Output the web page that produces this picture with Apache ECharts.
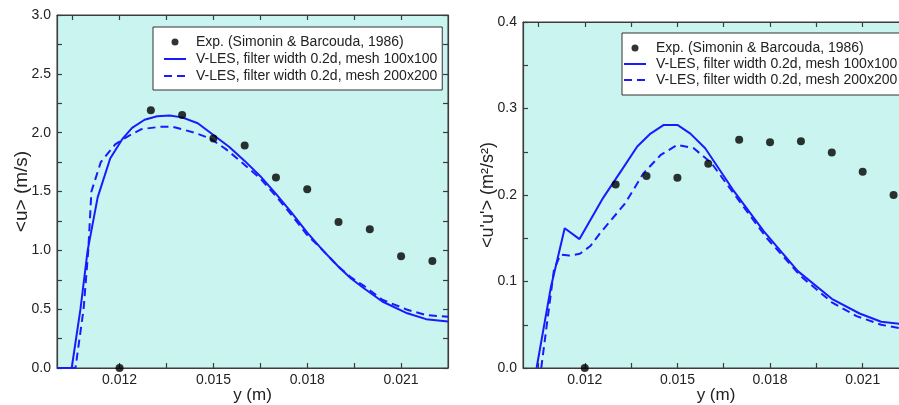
<!DOCTYPE html>
<html>
<head>
<meta charset="utf-8">
<script src="https://cdn.jsdelivr.net/npm/echarts@6/dist/echarts.min.js"></script>
<style>
  html, body { margin: 0; padding: 0; background: #fff; }
  #chart { width: 899px; height: 405px; }
</style>
</head>
<body>
<div id="chart"></div>
<script>
// Radial position y (m) of the experimental stations
const expY = [0.012, 0.013, 0.014, 0.015, 0.016, 0.017, 0.018, 0.019, 0.020, 0.021, 0.022];
// Mean streamwise velocity <u> (m/s), experiment
const expMeanU = [0, 2.19, 2.15, 1.95, 1.89, 1.62, 1.52, 1.24, 1.18, 0.95, 0.91];
// Streamwise velocity variance <u'u'> (m2/s2), experiment
const expVarU = [0, 0.212, 0.222, 0.220, 0.236, 0.264, 0.261, 0.262, 0.249, 0.227, 0.200];

// V-LES, mesh 100x100: mean velocity
const lesMeanY100 = [0.0100, 0.01047, 0.01075, 0.01098, 0.0113, 0.0117, 0.0121, 0.0124, 0.0128, 0.0132, 0.0136, 0.0140, 0.0145, 0.0150, 0.0155, 0.0160, 0.0165, 0.0170, 0.0175, 0.0180, 0.0185, 0.0190, 0.0194, 0.0198, 0.0204, 0.0212, 0.0218, 0.0225];
const lesMeanU100 = [0, 0, 0.5, 1.0, 1.45, 1.78, 1.95, 2.04, 2.11, 2.14, 2.145, 2.13, 2.08, 1.98, 1.88, 1.76, 1.63, 1.48, 1.32, 1.15, 1.0, 0.86, 0.76, 0.68, 0.565, 0.465, 0.415, 0.395];
// V-LES, mesh 200x200: mean velocity
const lesMeanY200 = [0.0100, 0.01059, 0.01085, 0.0110, 0.0111, 0.0114, 0.01186, 0.01224, 0.0127, 0.0133, 0.0137, 0.0144, 0.0149, 0.0154, 0.0159, 0.0165, 0.0170, 0.0175, 0.0180, 0.0185, 0.0190, 0.0194, 0.0198, 0.0204, 0.0212, 0.0218, 0.0225];
const lesMeanU200 = [0, 0, 0.5, 1.0, 1.5, 1.75, 1.9, 1.965, 2.03, 2.05, 2.05, 2.0, 1.95, 1.86, 1.75, 1.61, 1.46, 1.30, 1.13, 1.0, 0.86, 0.77, 0.70, 0.58, 0.495, 0.45, 0.435];

// V-LES, mesh 100x100: variance
const lesVarY100 = [0.01044, 0.0109, 0.01135, 0.01183, 0.0126, 0.0132, 0.0137, 0.01413, 0.01456, 0.0150, 0.01542, 0.0159, 0.0168, 0.0178, 0.0189, 0.0200, 0.0209, 0.0216, 0.0222, 0.0225];
const lesVarU100 = [0, 0.093, 0.1615, 0.149, 0.197, 0.229, 0.256, 0.271, 0.281, 0.281, 0.271, 0.254, 0.206, 0.158, 0.112, 0.080, 0.063, 0.0535, 0.051, 0.050];
// V-LES, mesh 200x200: variance
const lesVarY200 = [0.01059, 0.0110, 0.01121, 0.0115, 0.01184, 0.01218, 0.0125, 0.0133, 0.0139, 0.01445, 0.0150, 0.01553, 0.0161, 0.0169, 0.0179, 0.0190, 0.0200, 0.0208, 0.0216, 0.0222, 0.0225];
const lesVarU200 = [0, 0.113, 0.131, 0.13, 0.132, 0.141, 0.156, 0.19, 0.225, 0.246, 0.258, 0.254, 0.237, 0.198, 0.150, 0.106, 0.076, 0.060, 0.050, 0.046, 0.045];

// Tick positions and labels
const xLabelValues = [0.012, 0.015, 0.018, 0.021];
const xTickValues = [0.0105, 0.012, 0.0135, 0.015, 0.0165, 0.018, 0.0195, 0.021];
const meanLabelValues = [0, 0.5, 1.0, 1.5, 2.0, 2.5, 3.0];
const meanTickValues = [0, 0.25, 0.5, 0.75, 1.0, 1.25, 1.5, 1.75, 2.0, 2.25, 2.5, 2.75, 3.0];
const varLabelValues = [0, 0.1, 0.2, 0.3, 0.4];
const varTickValues = [0, 0.05, 0.1, 0.15, 0.2, 0.25, 0.3, 0.35, 0.4];

const seriesNames = [
  'Exp. (Simonin & Barcouda, 1986)',
  'V-LES, filter width 0.2d, mesh 100x100',
  'V-LES, filter width 0.2d, mesh 200x200'
];

const zip = (xs, ys) => xs.map((x, i) => [x, ys[i]]);

const FONT = '"Liberation Sans", Arial, Helvetica, sans-serif';
const FRAME = '#3c3c3c';
const TEXT = '#222';
const BLUE = '#1a1aff';
const PLOT_BG = '#c9f4ef';

function xAxisPair(gridIndex, withName) {
  const common = {
    type: 'value', gridIndex: gridIndex, min: 0.010, max: 0.0225,
    axisLine: { show: true, onZero: false, lineStyle: { color: FRAME, width: 1.2 } },
    axisTick: { show: true, inside: true, length: 5, customValues: xTickValues, lineStyle: { color: FRAME, width: 1.2 } },
    splitLine: { show: false }
  };
  return [
    Object.assign({}, common, {
      position: 'bottom',
      name: withName, nameLocation: 'middle', nameGap: 19, nameMoveOverlap: false,
      nameTextStyle: { fontFamily: FONT, fontSize: 17, color: TEXT },
      axisLabel: { show: true, customValues: xLabelValues, margin: 5, fontFamily: FONT, fontSize: 14, color: TEXT,
        formatter: v => v.toFixed(3) }
    }),
    Object.assign({}, common, { position: 'top', axisLabel: { show: false } })
  ];
}

function yAxisPair(gridIndex, max, labels, ticks, name, nameGap, nameSize) {
  const common = {
    type: 'value', gridIndex: gridIndex, min: 0, max: max,
    axisLine: { show: true, onZero: false, lineStyle: { color: FRAME, width: 1.2 } },
    axisTick: { show: true, inside: true, length: 5, customValues: ticks, lineStyle: { color: FRAME, width: 1.2 } },
    splitLine: { show: false }
  };
  return [
    Object.assign({}, common, {
      position: 'left',
      name: name, nameLocation: 'middle', nameGap: nameGap, nameMoveOverlap: false,
      nameTextStyle: { fontFamily: FONT, fontSize: nameSize, color: TEXT },
      axisLabel: { show: true, customValues: labels, margin: 6, fontFamily: FONT, fontSize: 14, color: TEXT,
        formatter: v => v.toFixed(1) }
    }),
    Object.assign({}, common, { position: 'right', axisLabel: { show: false } })
  ];
}

function expSeries(xi, yi, values) {
  return {
    name: seriesNames[0], type: 'scatter', xAxisIndex: xi, yAxisIndex: yi,
    data: zip(expY, values), symbol: 'circle', symbolSize: 8, clip: false,
    itemStyle: { color: '#000' }, z: 5
  };
}

function lesSeries(nameIdx, xi, yi, xs, ys, dashed) {
  return {
    name: seriesNames[nameIdx], type: 'line', xAxisIndex: xi, yAxisIndex: yi,
    data: zip(xs, ys), symbol: 'none', showSymbol: false, smooth: false,
    lineStyle: { color: BLUE, width: 2, type: dashed ? [8, 5] : 'solid' },
    itemStyle: { color: BLUE }
  };
}

function legendAt(left, top, padding, gap) {
  return {
    orient: 'vertical', left: left, top: top,
    data: [
      { name: seriesNames[0] },
      { name: seriesNames[1], itemStyle: { opacity: 0 } },
      { name: seriesNames[2], itemStyle: { opacity: 0 } }
    ],
    backgroundColor: '#fff', borderColor: '#333', borderWidth: 1, borderRadius: 0,
    padding: padding, itemWidth: 22, itemHeight: 7, itemGap: gap,
    selectedMode: false,
    textStyle: { fontFamily: FONT, fontSize: 14, color: TEXT, padding: [0, 0, 0, 5] }
  };
}

const gridCommon = { show: true, backgroundColor: PLOT_BG, borderColor: FRAME, borderWidth: 1, containLabel: false, outerBoundsMode: 'none' };

const chart = echarts.init(document.getElementById('chart'), null, { renderer: 'canvas' });
chart.setOption({
  animation: false,
  backgroundColor: '#fff',
  grid: [
    Object.assign({ left: 57, top: 15, width: 391, height: 353 }, gridCommon),
    Object.assign({ left: 523, top: 22, width: 386, height: 346 }, gridCommon)
  ],
  xAxis: [].concat(xAxisPair(0, 'y (m)'), xAxisPair(1, 'y (m)')),
  yAxis: [].concat(
    yAxisPair(0, 3, meanLabelValues, meanTickValues, '<u> (m/s)', 26, 19),
    yAxisPair(1, 0.4, varLabelValues, varTickValues, '<u\'u\'> (m\u00b2/s\u00b2)', 26, 18)
  ),
  legend: [
    legendAt(153, 27, [8, 5, 7, 10], 3),
    legendAt(622, 33, [8, 5, 8, 1], 2)
  ],
  series: [
    expSeries(0, 0, expMeanU),
    lesSeries(1, 0, 0, lesMeanY100, lesMeanU100, false),
    lesSeries(2, 0, 0, lesMeanY200, lesMeanU200, true),
    expSeries(2, 2, expVarU),
    lesSeries(1, 2, 2, lesVarY100, lesVarU100, false),
    lesSeries(2, 2, 2, lesVarY200, lesVarU200, true)
  ]
});
</script>
</body>
</html>
